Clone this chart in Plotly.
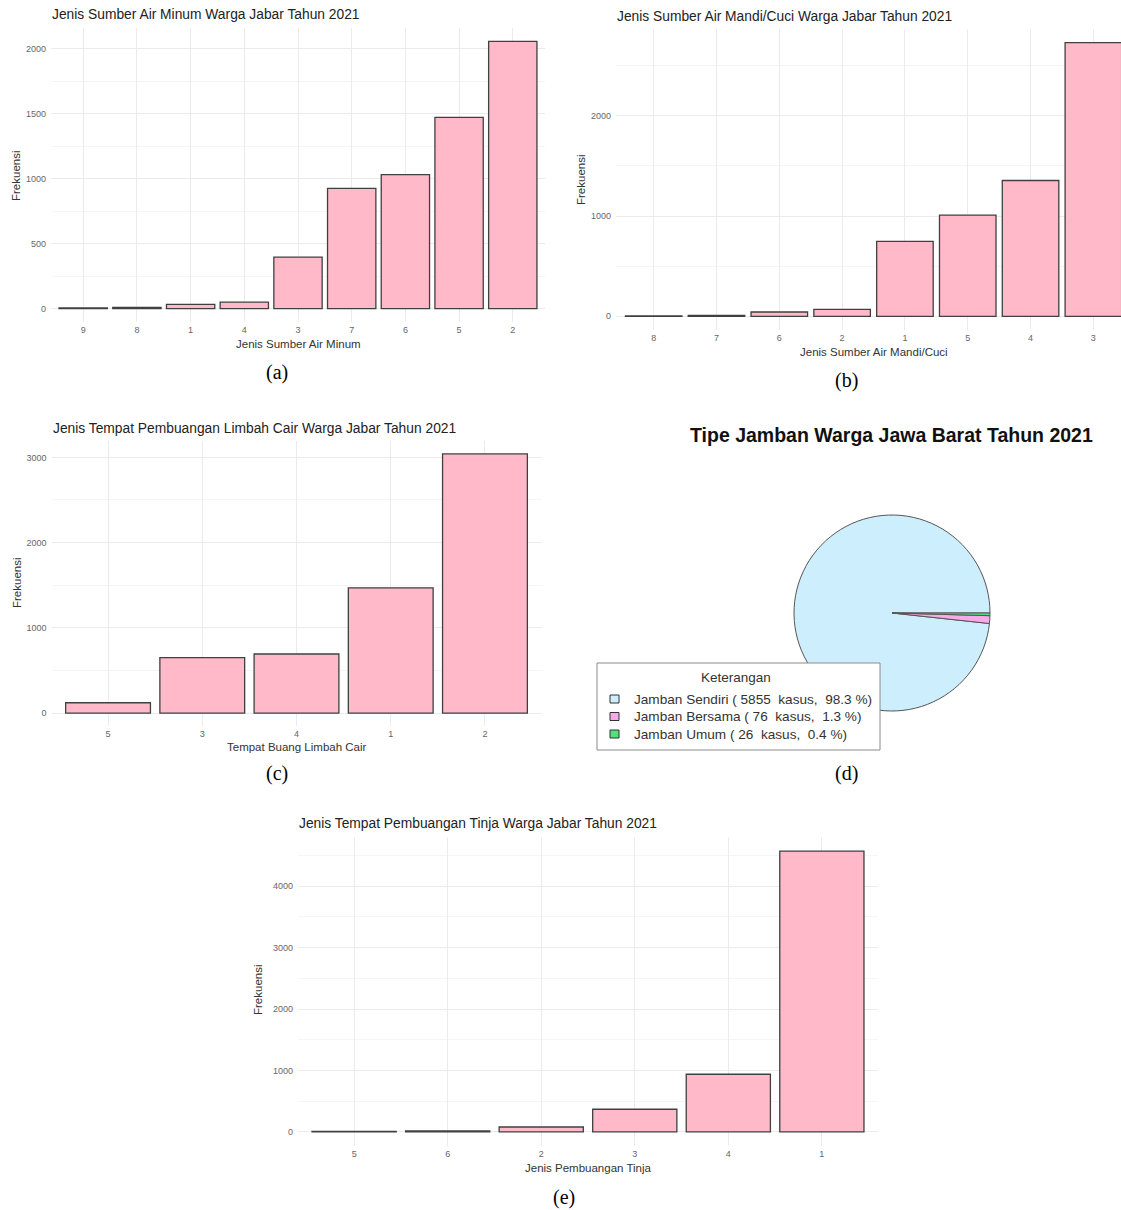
import plotly.graph_objects as go

W, H = 1121, 1210

# ---------------- data ----------------
minum_cat = ["9", "8", "1", "4", "3", "7", "6", "5", "2"]
minum_val = [5, 10, 32, 50, 396, 925, 1030, 1470, 2055]

mandi_cat = ["8", "7", "6", "2", "1", "5", "4", "3"]
mandi_val = [3, 10, 43, 70, 747, 1010, 1355, 2730]

limbah_cat = ["5", "3", "4", "1", "2"]
limbah_val = [121, 650, 693, 1469, 3040]

tinja_cat = ["5", "6", "2", "3", "4", "1"]
tinja_val = [11, 16, 81, 369, 939, 4570]

jamban_names = ["Jamban Sendiri", "Jamban Bersama", "Jamban Umum"]
jamban_counts = [5855, 76, 26]
jamban_colors = ["#CDEFFD", "#F9A8E8", "#55E07F"]

# ---------------- helpers ----------------
def px_x(x):
    return x / W

def px_y(y):
    return 1 - y / H

fig = go.Figure()

BAR_FILL = "#FFB9C8"
BAR_LINE = "#404040"
GRID = "#EBEBEB"
GRID_MINOR = "#F5F5F5"
TICK_FONT = dict(family="Liberation Sans, Arial", size=9, color="#666666")
SANS = "Liberation Sans, Arial"

panels = [
    (minum_cat, minum_val, "x", "y", (51, 545), (28, 322), 500, 250, None),
    (mandi_cat, mandi_val, "x2", "y2", (616, 1121), (29, 330), 1000, 500, 7.44),
    (limbah_cat, limbah_val, "x3", "y3", (51.5, 541.5), (441, 726), 1000, 500, None),
    (tinja_cat, tinja_val, "x4", "y4", (298, 878), (837, 1146), 1000, 500, None),
]

layout_axes = {}
for i, (cats, vals, xa, ya, xd, yd, dt, mdt, xr) in enumerate(panels):
    fig.add_trace(go.Bar(
        x=cats, y=vals, xaxis=xa, yaxis=ya,
        marker=dict(color=BAR_FILL, line=dict(color=BAR_LINE, width=1.3)),
        width=0.9, showlegend=False, hoverinfo="x+y",
    ))
    n = len(cats)
    vmax = max(vals)
    pad = 0.05 * vmax
    xkey = "xaxis" if i == 0 else f"xaxis{i+1}"
    ykey = "yaxis" if i == 0 else f"yaxis{i+1}"
    layout_axes[xkey] = dict(
        domain=[px_x(xd[0]), px_x(xd[1])],
        anchor=ya,
        type="category",
        categoryorder="array", categoryarray=cats,
        range=[-0.6, (xr if xr is not None else n - 0.4)],
        showgrid=True, gridcolor=GRID, gridwidth=1,
        zeroline=False, showline=False,
        tickfont=TICK_FONT, ticks="", ticklabelstandoff=1,
        fixedrange=True,
    )
    layout_axes[ykey] = dict(
        domain=[px_y(yd[1]), px_y(yd[0])],
        anchor=xa,
        range=[-pad, vmax + pad],
        dtick=dt, tick0=0,
        showgrid=True, gridcolor=GRID, gridwidth=1,
        minor=dict(showgrid=True, gridcolor=GRID_MINOR, dtick=mdt, tick0=0),
        zeroline=False, showline=False,
        tickfont=TICK_FONT, ticks="", ticklabelstandoff=4,
        fixedrange=True,
    )

# ---------------- pie ----------------
total = sum(jamban_counts)
pcts = [100 * c / total for c in jamban_counts]
pie_labels = [
    f"{nm} ( {c}\u00a0\u00a0kasus,\u00a0\u00a0{p:.1f} %)"
    for nm, c, p in zip(jamban_names, jamban_counts, pcts)
]
cx, cy, r = 892, 613, 98
# R-style pie: first slice starts at 3 o'clock and runs counterclockwise
start_rot = 90 - 360 * jamban_counts[0] / total
fig.add_trace(go.Pie(
    labels=pie_labels, values=jamban_counts,
    marker=dict(colors=jamban_colors, line=dict(color="#555555", width=1)),
    sort=False, direction="counterclockwise", rotation=start_rot,
    textinfo="none", hoverinfo="label",
    domain=dict(x=[px_x(cx - r), px_x(cx + r)], y=[px_y(cy + r), px_y(cy - r)]),
    showlegend=False,
))

# ---------------- text ----------------
ann = []
shapes = []

def text(x, y, s, size=13, family=SANS, color="#222222",
         xanchor="left", angle=0, bold=False):
    if bold:
        s = f"<b>{s}</b>"
    ann.append(dict(x=px_x(x), y=px_y(y), xref="paper", yref="paper", text=s,
                    showarrow=False, xanchor=xanchor, yanchor="middle",
                    textangle=angle,
                    font=dict(family=family, size=size, color=color)))

# titles
TS = 13.8
text(50, 15, "Jenis Sumber Air Minum Warga Jabar Tahun 2021", size=TS)
text(615, 16, "Jenis Sumber Air Mandi/Cuci Warga Jabar Tahun 2021", size=TS)
text(51, 428, "Jenis Tempat Pembuangan Limbah Cair Warga Jabar Tahun 2021", size=TS)
text(297, 823, "Jenis Tempat Pembuangan Tinja Warga Jabar Tahun 2021", size=TS)
text(891, 435, "Tipe Jamban Warga Jawa Barat Tahun 2021", size=19.5,
     xanchor="center", bold=True, color="#111111")

# axis titles
AX = dict(size=11.5, color="#333333")
text(298, 344, "Jenis Sumber Air Minum", xanchor="center", **AX)
text(874, 352, "Jenis Sumber Air Mandi/Cuci", xanchor="center", **AX)
text(297, 747, "Tempat Buang Limbah Cair", xanchor="center", **AX)
text(588, 1168, "Jenis Pembuangan Tinja", xanchor="center", **AX)
text(16, 176, "Frekuensi", xanchor="center", angle=-90, **AX)
text(581, 180, "Frekuensi", xanchor="center", angle=-90, **AX)
text(17, 583, "Frekuensi", xanchor="center", angle=-90, **AX)
text(258, 990, "Frekuensi", xanchor="center", angle=-90, **AX)

# captions
CAP = dict(size=20, family="Liberation Serif, Times New Roman", color="#000000",
           xanchor="center")
text(277, 372, "(a)", **CAP)
text(846, 380, "(b)", **CAP)
text(277, 773, "(c)", **CAP)
text(846, 773, "(d)", **CAP)
text(564, 1197, "(e)", **CAP)

# ---------------- legend (R base-graphics style box) ----------------
lx0, ly0, lx1, ly1 = 597, 663, 880, 750
shapes.append(dict(type="rect", xref="paper", yref="paper", layer="above",
                   x0=px_x(lx0), x1=px_x(lx1), y0=px_y(ly1), y1=px_y(ly0),
                   fillcolor="white", line=dict(color="#8a8a8a", width=1)))
text((lx0 + lx1) / 2 - 3, 677, "Keterangan", size=13.5, xanchor="center", color="#333333")
row0, row_step = 699, 17.5
for k, (lab, col) in enumerate(zip(pie_labels, jamban_colors)):
    yy = row0 + k * row_step
    shapes.append(dict(type="rect", xref="paper", yref="paper", layer="above",
                       x0=px_x(610), x1=px_x(619), y0=px_y(yy + 4), y1=px_y(yy - 4),
                       fillcolor=col, line=dict(color="#333333", width=1)))
    text(632, yy, lab, size=13.6, color="#333333")

fig.update_layout(
    width=W, height=H,
    margin=dict(l=0, r=0, t=0, b=0),
    paper_bgcolor="white", plot_bgcolor="white",
    annotations=ann,
    shapes=shapes,
    bargap=0.1,
    showlegend=False,
    **layout_axes,
)

fig.write_html("out.html")
